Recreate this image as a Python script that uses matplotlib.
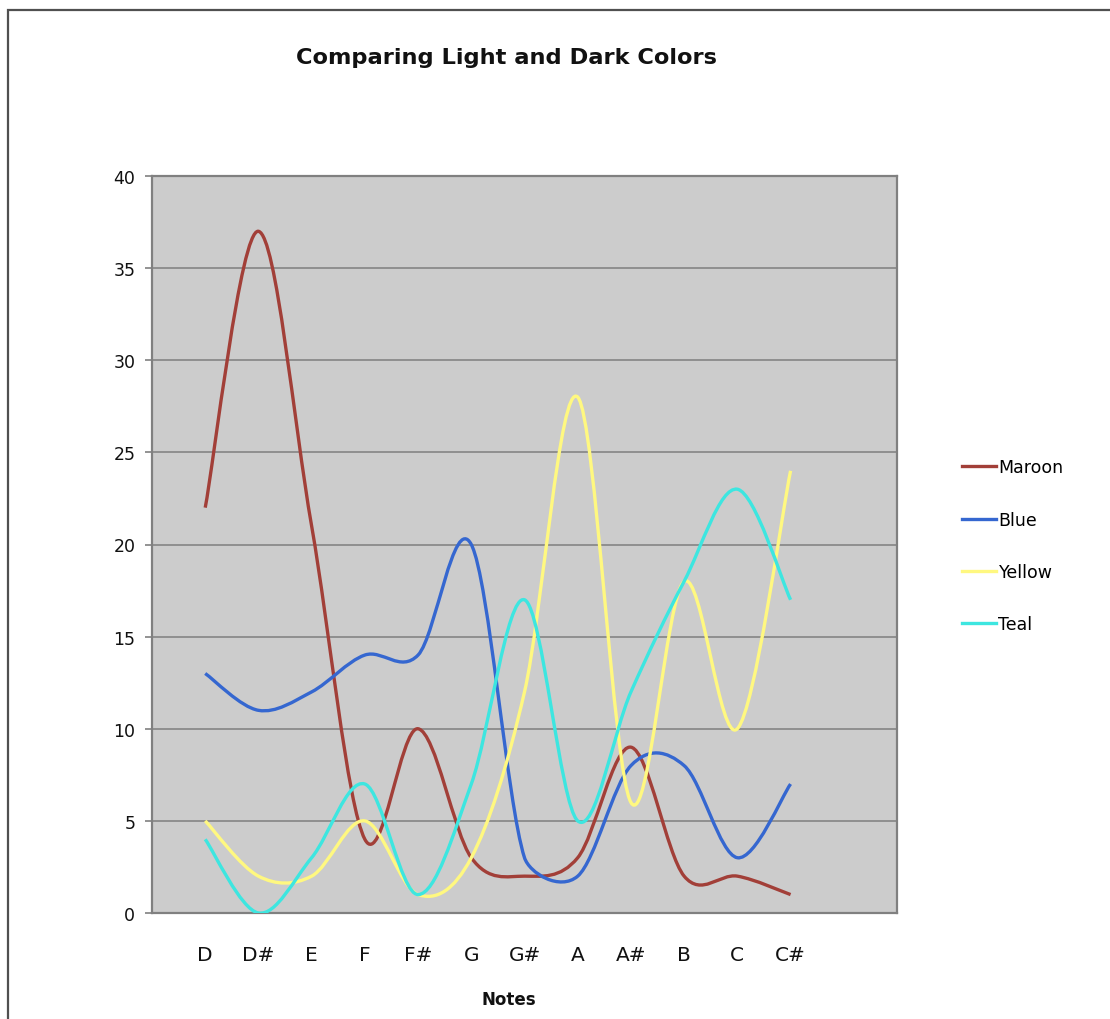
import matplotlib
matplotlib.use("Agg")
import math
import matplotlib.pyplot as plt
from matplotlib.path import Path
from matplotlib.patches import PathPatch, Rectangle
from matplotlib.lines import Line2D

notes = ["D", "D#", "E", "F", "F#", "G", "G#", "A", "A#", "B", "C", "C#"]
maroon = [22, 37, 21, 4, 10, 3, 2, 3, 9, 2, 2, 1]
blue = [13, 11, 12, 14, 14, 20, 3, 2, 8, 8, 3, 7]
yellow = [5, 2, 2, 5, 1, 3, 12, 28, 6, 18, 10, 24]
teal = [4, 0, 3, 7, 1, 7, 17, 5, 12, 18, 23, 17]

series = [("Maroon", maroon, "#A23F38"),
          ("Blue", blue, "#3567D0"),
          ("Yellow", yellow, "#FFF880"),
          ("Teal", teal, "#3DE6E0")]

plt.rcParams['font.family'] = ['DejaVu Sans']

fig = plt.figure(figsize=(11.1, 10.2), dpi=100)
fig.patch.set_facecolor("white")
fig.patches.append(Rectangle((8 / 1110, -0.2), 1.5, 1.2 - 11 / 1020,
                             transform=fig.transFigure, fill=False,
                             edgecolor="#505050", linewidth=1.6))

ax = fig.add_axes([152 / 1110, 1 - 914 / 1020, (897 - 152) / 1110, (914 - 177) / 1020])
ax.set_facecolor("#CCCCCC")
ax.set_xlim(0, 14)
ax.set_ylim(0, 40)
ax.set_yticks(range(0, 41, 5))
xs = list(range(1, len(notes) + 1))
ax.set_xticks(xs)
ax.set_xticklabels(notes, fontsize=14.5)
ax.tick_params(axis='x', length=0, pad=23, labelcolor="#111111")
ax.tick_params(axis='y', length=5, width=1.2, color="#808080", pad=7,
               labelsize=12.5, labelcolor="#111111")
for s in ax.spines.values():
    s.set_color("#808080")
    s.set_linewidth(1.6)
ax.yaxis.grid(True, color="#8A8A8A", linewidth=1.3)
ax.set_axisbelow(True)


def smooth_path(x, y):
    """Excel-style smoothed line: cubic Bezier segments through the points."""
    pts = list(zip(x, y))
    disp = ax.transData.transform(pts)
    n = len(pts)

    def dist(i, j):
        return math.hypot(disp[j][0] - disp[i][0], disp[j][1] - disp[i][1])

    c_out, c_in = [], []
    for i in range(n):
        p0 = pts[i - 1] if i > 0 else pts[i]
        p2 = pts[i + 1] if i < n - 1 else pts[i]
        tx, ty = (p2[0] - p0[0]) / 6, (p2[1] - p0[1]) / 6
        fa = fb = 1.0
        if 0 < i < n - 1:
            dp, dn = dist(i - 1, i), dist(i, i + 1)
            if dn > 0 and dp / dn > 3:
                fb = (3 * dn / dp) ** 2
            if dp > 0 and dn / dp > 3:
                fa = (3 * dp / dn) ** 2
        c_in.append((pts[i][0] - fa * tx, pts[i][1] - fa * ty))
        c_out.append((pts[i][0] + fb * tx, pts[i][1] + fb * ty))

    verts = [pts[0]]
    codes = [Path.MOVETO]
    for i in range(n - 1):
        verts += [c_out[i], c_in[i + 1], pts[i + 1]]
        codes += [Path.CURVE4] * 3
    return Path(verts, codes)


handles = []
for name, vals, col in series:
    patch = PathPatch(smooth_path(xs, vals), facecolor="none", edgecolor=col,
                      linewidth=2.4, capstyle="butt", joinstyle="round",
                      transform=ax.transData, zorder=3)
    ax.add_patch(patch)
    handles.append(Line2D([], [], color=col, linewidth=2.4, label=name))

fig.text(506 / 1110, 1 - 58 / 1020, "Comparing Light and Dark Colors",
         ha="center", va="center", fontsize=16.2, fontweight="bold", color="#111111")
fig.text(509 / 1110, 1 - 1000 / 1020, "Notes", ha="center", va="center",
         fontsize=12, fontweight="bold", color="#111111")

fig.legend(handles=handles, loc="center left", bbox_to_anchor=(0.8667, 0.464),
           frameon=False, fontsize=12.5, handlelength=1.95, handletextpad=0.15,
           labelspacing=1.97, borderpad=0, borderaxespad=0)

fig.savefig("out.png", dpi=100, facecolor="white")
